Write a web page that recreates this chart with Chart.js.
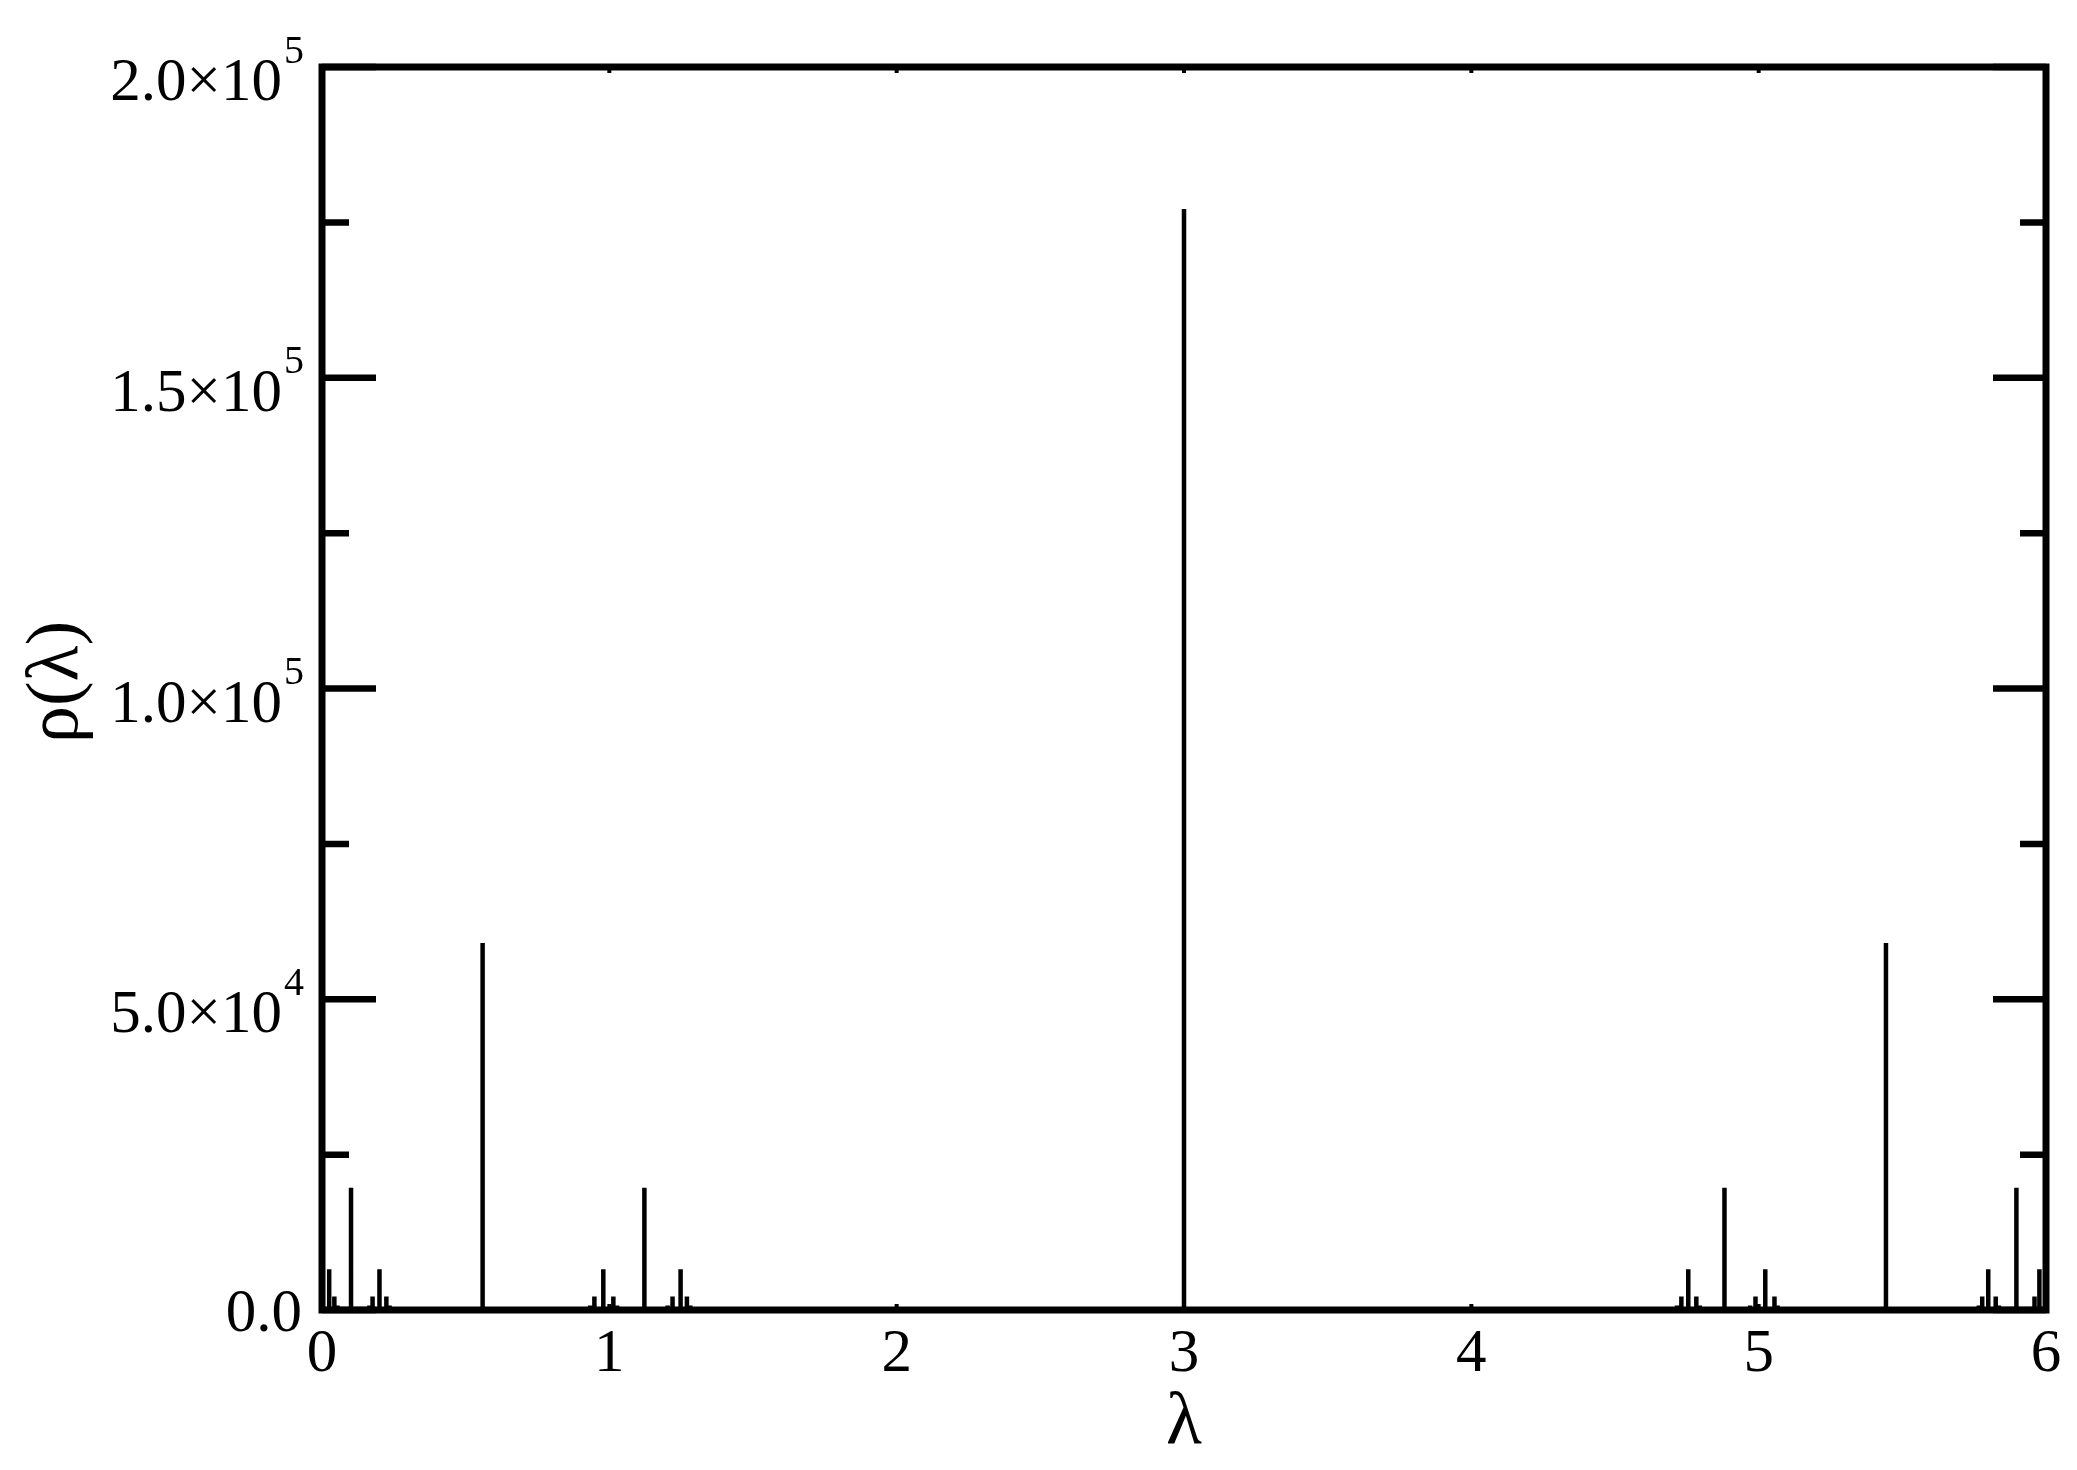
<!DOCTYPE html>
<html>
<head>
<meta charset="utf-8">
<title>rho(lambda)</title>
<script src="https://cdn.jsdelivr.net/npm/chart.js@4.4.0/dist/chart.umd.min.js"></script>
<style>
  html, body { margin: 0; padding: 0; background: #fff; }
  #chart { display: block; }
</style>
</head>
<body>
<canvas id="chart" width="2077" height="1470"></canvas>
<script>
// spike positions and heights
const lambdas = [0.025, 0.043, 0.054, 0.101, 0.165, 0.176, 0.200, 0.224, 0.235, 0.559,
                 0.933, 0.948, 0.979, 1.014, 1.027, 1.122, 1.203, 1.220, 1.248, 1.270, 1.282,
                 3.000,
                 4.716, 4.731, 4.755, 4.783, 4.795, 4.881, 4.970, 4.989, 5.023, 5.055, 5.066,
                 5.443, 5.766, 5.778, 5.799, 5.825, 5.836, 5.897, 5.960, 5.977];
const rho = [6561, 2187, 729, 19683, 729, 2187, 6561, 2187, 729, 59049,
             729, 2187, 6561, 2187, 729, 19683, 729, 2187, 6561, 2187, 729,
             177147,
             729, 2187, 6561, 2187, 729, 19683, 729, 2187, 6561, 2187, 729,
             59049, 729, 2187, 6561, 2187, 729, 19683, 2187, 6561];

const xTicks = [0, 1, 2, 3, 4, 5, 6];
const xTickLabels = ['0', '1', '2', '3', '4', '5', '6'];
const yMajorTicks = [0, 50000, 100000, 150000, 200000];
const yMinorTicks = [25000, 75000, 125000, 175000];
const yTickMantissa = ['0.0', '5.0\u00d710', '1.0\u00d710', '1.5\u00d710', '2.0\u00d710'];
const yTickExponent = ['', '4', '5', '5', '5'];
const xTitle = '\u03bb';
const yTitle = '\u03c1(\u03bb)';

document.addEventListener('DOMContentLoaded', function() {
  // each spike: up from zero and back down
  const points = [];
  lambdas.forEach((l, i) => {
    points.push({ x: l, y: 0 }, { x: l, y: rho[i] }, { x: l, y: 0 });
  });

  const serif = '"Liberation Serif", "Times New Roman", serif';

  const framePlugin = {
    id: 'frame',
    afterDraw(chart) {
      const ctx = chart.ctx;
      const xs = chart.scales.x;
      const ys = chart.scales.y;
      const area = chart.chartArea;
      ctx.save();
      ctx.strokeStyle = '#000';
      ctx.fillStyle = '#000';
      ctx.lineCap = 'butt';
      ctx.lineJoin = 'miter';

      // ticks pointing inwards
      ctx.lineWidth = 6.5;
      ctx.beginPath();
      yMajorTicks.forEach(v => {
        const y = ys.getPixelForValue(v);
        ctx.moveTo(area.left, y); ctx.lineTo(area.left + 54, y);
        ctx.moveTo(area.right, y); ctx.lineTo(area.right - 53, y);
      });
      yMinorTicks.forEach(v => {
        const y = ys.getPixelForValue(v);
        ctx.moveTo(area.left, y); ctx.lineTo(area.left + 27, y);
        ctx.moveTo(area.right, y); ctx.lineTo(area.right - 26, y);
      });
      ctx.stroke();

      ctx.lineWidth = 4;
      ctx.beginPath();
      xTicks.forEach(v => {
        const x = xs.getPixelForValue(v);
        ctx.moveTo(x, area.top); ctx.lineTo(x, area.top + 6);
        ctx.moveTo(x, area.bottom); ctx.lineTo(x, area.bottom - 6);
      });
      ctx.stroke();

      // frame
      ctx.lineWidth = 7;
      ctx.strokeRect(area.left, area.top, area.right - area.left, area.bottom - area.top);

      // x tick labels
      ctx.font = '61px ' + serif;
      ctx.textAlign = 'center';
      ctx.textBaseline = 'alphabetic';
      xTicks.forEach((v, i) => {
        ctx.fillText(xTickLabels[i], xs.getPixelForValue(v), area.bottom + 61);
      });

      // y tick labels with superscript exponent
      const labelRight = area.left - 18;
      yMajorTicks.forEach((v, i) => {
        const y = ys.getPixelForValue(v);
        const exp = yTickExponent[i];
        ctx.textAlign = 'left';
        let supW = 0;
        if (exp) {
          ctx.font = '40px ' + serif;
          supW = ctx.measureText(exp).width;
          ctx.fillText(exp, labelRight - supW, y - 4.5);
        }
        ctx.font = '61px ' + serif;
        ctx.textAlign = 'right';
        ctx.fillText(yTickMantissa[i], labelRight - supW - 2, exp ? y + 33 : y + 21);
      });

      // axis titles
      ctx.font = '74px ' + serif;
      ctx.textAlign = 'center';
      ctx.fillText(xTitle, (area.left + area.right) / 2, 1443);
      ctx.translate(77, 682);
      ctx.rotate(-Math.PI / 2);
      ctx.fillText(yTitle, 0, 0);
      ctx.restore();
    }
  };

  new Chart(document.getElementById('chart'), {
    type: 'line',
    data: {
      datasets: [{
        data: points,
        borderColor: '#000',
        borderWidth: 4.5,
        pointRadius: 0,
        tension: 0,
        fill: false
      }]
    },
    options: {
      responsive: false,
      devicePixelRatio: 1,
      animation: false,
      layout: { padding: { left: 322, right: 31, top: 67, bottom: 160 } },
      plugins: { legend: { display: false }, tooltip: { enabled: false } },
      scales: {
        x: { type: 'linear', min: 0, max: 6, display: false },
        y: { type: 'linear', min: 0, max: 200000, display: false }
      }
    },
    plugins: [framePlugin]
  });
});
</script>
</body>
</html>
